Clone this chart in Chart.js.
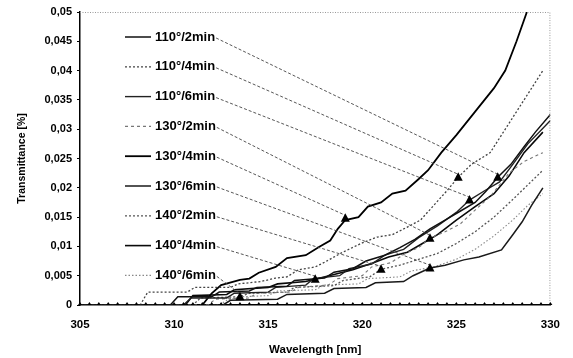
<!DOCTYPE html>
<html><head><meta charset="utf-8">
<script src="https://cdn.jsdelivr.net/npm/chart.js@4/dist/chart.umd.min.js"></script>
<style>html,body{margin:0;padding:0;background:#fff}#wrap{width:573px;height:358px}</style>
</head><body><div id="wrap"><canvas id="c" width="573" height="358"></canvas></div>
<script>
// ---- data (wavelength nm, transmittance %) ----
const labels = ["110°/2min","110°/4min","110°/6min","130°/2min","130°/4min","130°/6min","140°/2min","140°/4min","140°/6min"];
const s110_2 = [[305,0],[309.8,0],[310.2,0.0014],[312.0,0.0014],[312.4,0.0022],[314.0,0.0024],[314.4,0.003],[316.0,0.0032],[316.4,0.0042],[318.0,0.0046],[318.5,0.0056],[319.5,0.0062],[320.2,0.0075],[321.2,0.0085],[322.0,0.0098],[322.8,0.0112],[323.6,0.013],[324.4,0.0145],[325.2,0.016],[326.0,0.0175],[326.6,0.0195],[327.2,0.0218],[327.9,0.024],[328.6,0.027],[329.2,0.0295],[330,0.0325]];
const s110_4 = [[305,0],[308.2,0],[308.6,0.0022],[310.7,0.0022],[311.1,0.003],[313.0,0.003],[313.4,0.0036],[314.6,0.004],[315.4,0.0046],[316.0,0.0048],[316.6,0.006],[317.5,0.0065],[318.0,0.0073],[318.9,0.0089],[320.0,0.0106],[320.8,0.0116],[321.6,0.012],[322.4,0.0133],[323.1,0.0145],[323.8,0.017],[324.5,0.0195],[325.1,0.0218],[325.8,0.024],[326.8,0.026],[327.4,0.029],[328.0,0.032],[328.8,0.036],[329.6,0.040]];
const s110_6 = [[305,0],[310.5,0],[310.9,0.0012],[312.8,0.0012],[313.2,0.002],[315.0,0.0022],[315.4,0.003],[317.0,0.0034],[317.4,0.0045],[318.8,0.005],[319.3,0.0062],[320.5,0.007],[321.2,0.0085],[322.2,0.0095],[323.0,0.0115],[324.0,0.0135],[325.0,0.0158],[325.7,0.0179],[326.5,0.0195],[327.3,0.021],[328.0,0.024],[328.8,0.0275],[330,0.0315]];
const s130_2 = [[305,0],[311.8,0],[312.2,0.001],[314.0,0.0012],[314.4,0.002],[316.2,0.0022],[316.6,0.003],[318.2,0.0034],[318.7,0.0045],[320.0,0.005],[320.5,0.0065],[321.5,0.0072],[322.3,0.0088],[323.0,0.0098],[323.6,0.0114],[324.4,0.0125],[325.2,0.0138],[326.0,0.0162],[326.8,0.0185],[327.8,0.0225],[328.6,0.0245],[329.6,0.026]];
const s130_4 = [[305,0],[311.5,0],[312.0,0.002],[312.5,0.0034],[313.5,0.0043],[314.0,0.0045],[314.5,0.0055],[315.4,0.0065],[316.0,0.008],[317.0,0.0085],[317.7,0.0099],[318.3,0.011],[318.7,0.013],[319.1,0.0145],[319.8,0.015],[320.3,0.0168],[321.0,0.0175],[321.6,0.019],[322.3,0.0195],[323.0,0.0215],[323.5,0.023],[324.2,0.026],[325.0,0.029],[326.0,0.033],[327.0,0.037],[327.6,0.040],[328.2,0.045],[328.75,0.05]];
const s130_6 = [[305,0],[312.6,0],[313.0,0.0008],[315.5,0.001],[316.0,0.0018],[318.0,0.002],[318.5,0.0028],[320.2,0.003],[320.7,0.0038],[322.2,0.004],[322.7,0.005],[323.6,0.0063],[324.4,0.0068],[325.4,0.0077],[326.2,0.0082],[327.4,0.0094],[328.0,0.012],[328.5,0.0142],[329.0,0.017],[329.6,0.020]];
const s140_2 = [[305,0],[311.0,0],[311.4,0.0012],[313.5,0.0014],[314.0,0.002],[316.0,0.0022],[316.4,0.003],[318.5,0.0033],[319.0,0.0042],[320.4,0.0048],[321.0,0.0061],[322.0,0.0068],[323.0,0.0078],[324.0,0.0088],[325.0,0.0105],[326.0,0.0125],[327.0,0.015],[328.0,0.018],[328.8,0.0205],[329.6,0.023]];
const s140_4 = [[305,0],[310.6,0],[311.0,0.0016],[312.8,0.0018],[313.2,0.0026],[315.0,0.003],[315.5,0.0036],[317.0,0.004],[317.5,0.0044],[318.5,0.0052],[319.5,0.006],[320.6,0.0072],[321.4,0.0082],[322.4,0.009],[323.2,0.0105],[324.0,0.012],[325.0,0.0145],[326.0,0.0168],[327.0,0.019],[327.8,0.022],[328.6,0.026],[329.6,0.0295]];
const s140_6 = [[305,0],[312.4,0],[312.8,0.0008],[313.5,0.0014],[315.0,0.0016],[315.5,0.0024],[317.5,0.0026],[318.0,0.0034],[319.8,0.0036],[320.3,0.0045],[322.0,0.0048],[322.6,0.0058],[323.8,0.0065],[325.0,0.0078],[326.0,0.0095],[327.0,0.0118],[328.0,0.0145],[328.8,0.017],[329.6,0.019]];
// arrow targets (triangle marks) for each legend entry
const markerX = [327.2,325.1,325.7,323.6,319.1,323.6,321.0,317.5,313.5];
const markerY = [0.0218,0.0218,0.0179,0.0114,0.0148,0.0063,0.0061,0.0044,0.0014];
const xTicks = [305,310,315,320,325,330];
const yTicks = [0,0.005,0.01,0.015,0.02,0.025,0.03,0.035,0.04,0.045,0.05];

const series = [s110_2,s110_4,s110_6,s130_2,s130_4,s130_6,s140_2,s140_4,s140_6];
const colors = ['#111','#444','#222','#777','#000','#1a1a1a','#555','#0a0a0a','#888'];
const widths = [1.5,1.3,1.4,1.1,1.8,1.5,1.3,1.6,1.1];
const dashes = [[],[2,2],[],[3,3],[],[],[2,2],[],[1.5,2]];

const datasets = series.map((s,i)=>({
  label: labels[i],
  data: s.map(p=>({x:p[0],y:p[1]})),
  borderColor: colors[i], borderWidth: widths[i], borderDash: dashes[i],
  pointRadius: 0, tension: 0, fill: false
}));

const F = '"Liberation Sans", Arial, sans-serif';

const annot = {
  id:'annot',
  afterDatasetsDraw(chart){
    const ctx = chart.ctx, a = chart.chartArea, xs = chart.scales.x, ys = chart.scales.y;
    ctx.save();
    // dotted top/right frame
    ctx.strokeStyle = '#999'; ctx.lineWidth = 1; ctx.setLineDash([1,1.5]);
    ctx.beginPath(); ctx.moveTo(a.left, a.top+0.5); ctx.lineTo(a.right-0.5, a.top+0.5); ctx.lineTo(a.right-0.5, a.bottom); ctx.stroke();
    ctx.setLineDash([]);
    // tiny baseline triangles every 0.5 nm (scale ticks)
    ctx.fillStyle = '#000';
    xs.ticks.forEach(t=>{
      const px = xs.getPixelForValue(t.value), py = a.bottom;
      ctx.beginPath(); ctx.moveTo(px-2,py); ctx.lineTo(px+2,py); ctx.lineTo(px,py-3); ctx.closePath(); ctx.fill();
    });
    // legend
    const ly0 = 37, dy = 29.8;
    ctx.font = 'bold 13px '+F; ctx.textBaseline = 'middle';
    labels.forEach((lab,i)=>{
      const y = ly0 + i*dy;
      ctx.strokeStyle = colors[i]; ctx.lineWidth = widths[i]; ctx.setLineDash(dashes[i]);
      ctx.beginPath(); ctx.moveTo(125,y); ctx.lineTo(151,y); ctx.stroke();
      ctx.setLineDash([]);
      ctx.fillStyle = '#000'; ctx.fillText(lab, 155, y);
      const tw = ctx.measureText(lab).width;
      // arrow
      const tx = xs.getPixelForValue(markerX[i]), ty = ys.getPixelForValue(markerY[i]);
      ctx.strokeStyle = '#444'; ctx.lineWidth = 0.9; ctx.setLineDash([3,2]);
      ctx.beginPath(); ctx.moveTo(155+tw+1, y+1); ctx.lineTo(tx, ty-3); ctx.stroke();
      ctx.setLineDash([]);
      ctx.fillStyle = '#000';
      ctx.beginPath(); ctx.moveTo(tx-4.5, ty+3.5); ctx.lineTo(tx+4.5, ty+3.5); ctx.lineTo(tx, ty-5); ctx.closePath(); ctx.fill();
    });
    ctx.restore();
  }
};

new Chart(document.getElementById('c'), {
  type:'line',
  data:{datasets},
  options:{
    responsive:false, animation:false, devicePixelRatio:1,
    layout:{padding:{top:12,right:14,left:0,bottom:0}},
    plugins:{legend:{display:false}, tooltip:{enabled:false}},
    scales:{
      x:{type:'linear', min:305, max:330,
        afterBuildTicks(s){ const t=[]; for(let k=0;k<=50;k++) t.push({value:305+k*0.5}); s.ticks=t; },
        ticks:{autoSkip:false, maxRotation:0, color:'#000', font:{family:F, size:11.5, weight:'bold'}, padding:13,
          callback:(v)=> xTicks.includes(Math.round(v*100)/100) ? String(v) : ''},
        grid:{drawOnChartArea:false, drawTicks:false},
        border:{color:'#000', width:1.5},
        title:{display:true, text:'Wavelength [nm]', color:'#000', font:{family:F, size:11.5, weight:'bold'}, padding:{top:6,bottom:1}},
        afterFit(s){ s.height = 53; }
      },
      y:{min:0, max:0.05,
        afterBuildTicks(s){ s.ticks = yTicks.map(v=>({value:v})); },
        ticks:{color:'#000', font:{family:F, size:11, weight:'bold'}, padding:5,
          callback:(v)=> v===0 ? '0' : v.toFixed(3).replace(/0+$/,'').replace('.',',')},
        grid:{drawOnChartArea:false, drawTicks:true, tickLength:3, color:'#000'},
        border:{color:'#000', width:1.5},
        title:{display:true, text:'Transmittance [%]', color:'#000', font:{family:F, size:10.5, weight:'bold'}, padding:{top:16,bottom:0}},
        afterFit(s){ s.width = 80; }
      }
    }
  },
  plugins:[annot]
});
</script></body></html>
